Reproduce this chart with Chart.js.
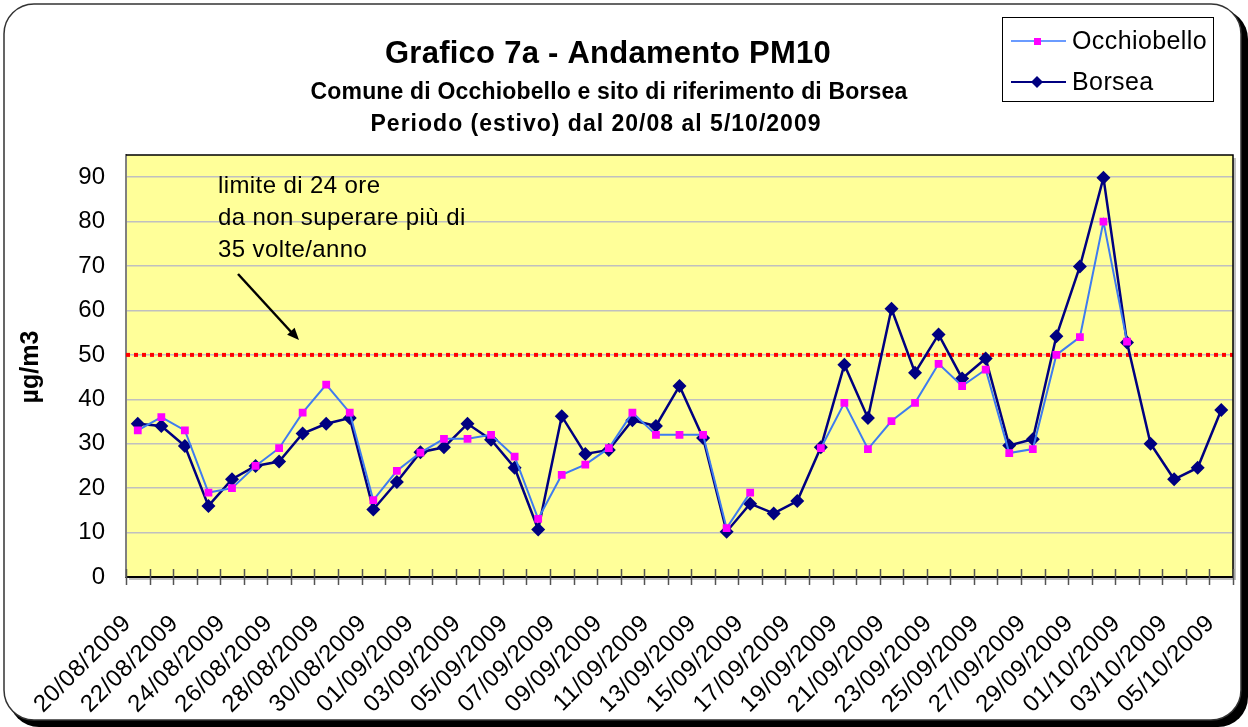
<!DOCTYPE html>
<html>
<head>
<meta charset="utf-8">
<script src="https://cdn.jsdelivr.net/npm/chart.js@4.4.0/dist/chart.umd.min.js"></script>
<style>
  html, body { margin: 0; padding: 0; background: #fff; }
  #wrap { width: 1248px; height: 727px; }
</style>
</head>
<body>
<div id="wrap"><canvas id="c" width="1248" height="727"></canvas></div>
<script>
// categories: one per day, 20/08/2009 -> 05/10/2009
const days = [
  '20/08/2009','21/08/2009','22/08/2009','23/08/2009','24/08/2009','25/08/2009','26/08/2009',
  '27/08/2009','28/08/2009','29/08/2009','30/08/2009','31/08/2009','01/09/2009','02/09/2009',
  '03/09/2009','04/09/2009','05/09/2009','06/09/2009','07/09/2009','08/09/2009','09/09/2009',
  '10/09/2009','11/09/2009','12/09/2009','13/09/2009','14/09/2009','15/09/2009','16/09/2009',
  '17/09/2009','18/09/2009','19/09/2009','20/09/2009','21/09/2009','22/09/2009','23/09/2009',
  '24/09/2009','25/09/2009','26/09/2009','27/09/2009','28/09/2009','29/09/2009','30/09/2009',
  '01/10/2009','02/10/2009','03/10/2009','04/10/2009','05/10/2009'
];

// PM10 values (µg/m3)
const occhiobello = [
  33, 36, 33, 19, 20, 25, 29, 37, 43.3, 37, 17.3, 23.9, 28, 31.1, 31.1, 32,
  27.1, 13.1, 23, 25.3, 29, 37, 32, 32, 32, 11, 19, null, null, 29, 39.2, 28.8,
  35.1, 39.2, 48, 43, 46.7, 27.9, 28.8, 50, 54, 80, 53, null, null, null, null
];
const borsea = [
  34.5, 34, 29.5, 16, 22, 25, 26, 32.3, 34.5, 35.8, 15.2, 21.4, 28.1, 29.2, 34.5, 30.9,
  24.6, 10.7, 36.2, 27.7, 28.6, 35.3, 34, 43, 31.3, 10.2, 16.5, 14.3, 17.1, 29.2, 47.8, 35.8,
  60.4, 46, 54.6, 44.7, 49.2, 29.6, 31, 54.2, 69.9, 89.9, 52.8, 30, 22, 24.6, 37.6
];

const yTicks = [0, 10, 20, 30, 40, 50, 60, 70, 80, 90];
const Y_MAX = 95;
const LIMIT = 50;       // limite di 24 ore

const titleLines = [
  'Grafico 7a - Andamento PM10',
  'Comune di Occhiobello e sito di riferimento di Borsea',
  'Periodo (estivo) dal 20/08 al 5/10/2009'
];
const noteLines = ['limite di 24 ore', 'da non superare più di', '35 volte/anno'];

const FONT = '"Liberation Sans", Arial, sans-serif';
const OCC_LINE = '#3f7cf0', OCC_MARK = '#ff00ff', BOR = '#000080';

function rrect(ctx, x, y, w, h, r) {
  ctx.beginPath();
  ctx.moveTo(x + r, y);
  ctx.lineTo(x + w - r, y);
  ctx.arcTo(x + w, y, x + w, y + r, r);
  ctx.lineTo(x + w, y + h - r);
  ctx.arcTo(x + w, y + h, x + w - r, y + h, r);
  ctx.lineTo(x + r, y + h);
  ctx.arcTo(x, y + h, x, y + h - r, r);
  ctx.lineTo(x, y + r);
  ctx.arcTo(x, y, x + r, y, r);
  ctx.closePath();
}

// centred text stretched with letter spacing to a given width
function spacedText(ctx, text, cx, y, width) {
  ctx.letterSpacing = '0px';
  const w = ctx.measureText(text).width;
  const sp = Math.max(0, (width - w) / text.length);
  ctx.letterSpacing = sp + 'px';
  ctx.textAlign = 'left';
  ctx.fillText(text, cx - width / 2, y);
  ctx.letterSpacing = '0px';
}

const decor = {
  id: 'decor',
  beforeDraw(chart) {
    const ctx = chart.ctx, a = chart.chartArea;
    ctx.save();
    ctx.fillStyle = '#fff';
    ctx.fillRect(0, 0, chart.width, chart.height);
    // frame + shadow
    ctx.fillStyle = '#000';
    rrect(ctx, 9, 9, 1239, 718, 30);
    ctx.fill();
    ctx.fillStyle = '#fff';
    rrect(ctx, 4, 4, 1237, 716, 30);
    ctx.fill();
    ctx.strokeStyle = '#333';
    ctx.lineWidth = 1.5;
    ctx.stroke();
    // plot background
    ctx.fillStyle = '#c0c0c0';
    ctx.fillRect(a.left + 3, a.top + 3, a.right - a.left, a.bottom - a.top);
    ctx.fillStyle = '#ffff99';
    ctx.fillRect(a.left, a.top, a.right - a.left, a.bottom - a.top);
    ctx.restore();
  },
  beforeDatasetsDraw(chart) {
    const ctx = chart.ctx, a = chart.chartArea;
    const y = chart.scales.y.getPixelForValue(LIMIT);
    ctx.save();
    ctx.strokeStyle = '#ff0000';
    ctx.lineWidth = 4;
    ctx.setLineDash([4, 4]);
    ctx.beginPath();
    ctx.moveTo(a.left, y);
    ctx.lineTo(a.right, y);
    ctx.stroke();
    ctx.restore();
  },
  afterDatasetsDraw(chart) {
    // x labels (drawn next, z = 1) use a slightly wider spacing, as in the original
    chart.ctx.letterSpacing = '0.6px';
  },
  afterDraw(chart) {
    const ctx = chart.ctx, a = chart.chartArea, xs = chart.scales.x;
    ctx.letterSpacing = '0px';
    ctx.save();
    // plot border top/right
    ctx.strokeStyle = '#000';
    ctx.lineWidth = 1.5;
    ctx.beginPath();
    ctx.moveTo(a.left, a.top);
    ctx.lineTo(a.right, a.top);
    ctx.lineTo(a.right, a.bottom);
    ctx.stroke();
    // x tick marks between categories, crossing the axis
    const half = (xs.getPixelForValue(1) - xs.getPixelForValue(0)) / 2;
    ctx.strokeStyle = '#555';
    ctx.lineWidth = 1.5;
    ctx.beginPath();
    for (let i = 0; i <= days.length; i++) {
      const x = Math.round(xs.getPixelForValue(i) - half) + 0.5;
      ctx.moveTo(x, a.bottom - 8);
      ctx.lineTo(x, a.bottom + 8);
    }
    ctx.stroke();

    // titles
    ctx.fillStyle = '#000';
    ctx.textBaseline = 'alphabetic';
    ctx.font = 'bold 31px ' + FONT;
    spacedText(ctx, titleLines[0], 608, 63, 446);
    ctx.font = 'bold 23px ' + FONT;
    spacedText(ctx, titleLines[1], 609, 99, 597);
    spacedText(ctx, titleLines[2], 596, 131, 451);

    // y axis title
    ctx.save();
    ctx.translate(38, 367);
    ctx.rotate(-Math.PI / 2);
    ctx.textAlign = 'center';
    ctx.font = 'bold 25px ' + FONT;
    ctx.fillText('µg/m3', 0, 0);
    ctx.restore();

    // note + arrow
    ctx.textAlign = 'left';
    ctx.font = '24px ' + FONT;
    ctx.letterSpacing = '0.4px';
    noteLines.forEach((t, i) => ctx.fillText(t, 218, 193 + i * 32));
    ctx.letterSpacing = '0px';
    ctx.strokeStyle = '#000';
    ctx.lineWidth = 2.5;
    ctx.beginPath();
    ctx.moveTo(238, 274);
    ctx.lineTo(293, 334);
    ctx.stroke();
    const ang = Math.atan2(340 - 274, 299 - 238);
    ctx.fillStyle = '#000';
    ctx.beginPath();
    ctx.moveTo(299, 340);
    ctx.lineTo(299 - 13 * Math.cos(ang - 0.4), 340 - 13 * Math.sin(ang - 0.4));
    ctx.lineTo(299 - 13 * Math.cos(ang + 0.4), 340 - 13 * Math.sin(ang + 0.4));
    ctx.closePath();
    ctx.fill();

    // legend
    ctx.fillStyle = '#fff';
    ctx.fillRect(1002, 17, 211, 84);
    ctx.strokeStyle = '#000';
    ctx.lineWidth = 1;
    ctx.strokeRect(1002.5, 17.5, 211, 84);
    ctx.lineWidth = 2;
    ctx.strokeStyle = '#6a9bff';
    ctx.beginPath(); ctx.moveTo(1011, 41); ctx.lineTo(1066, 41); ctx.stroke();
    ctx.fillStyle = OCC_MARK;
    ctx.fillRect(1034, 38, 7, 7);
    ctx.strokeStyle = BOR;
    ctx.beginPath(); ctx.moveTo(1011, 82); ctx.lineTo(1066, 82); ctx.stroke();
    ctx.fillStyle = BOR;
    ctx.beginPath();
    ctx.moveTo(1037, 76); ctx.lineTo(1043, 82); ctx.lineTo(1037, 88); ctx.lineTo(1031, 82);
    ctx.closePath(); ctx.fill();
    ctx.fillStyle = '#000';
    ctx.font = '25px ' + FONT;
    ctx.letterSpacing = '0.4px';
    ctx.fillText('Occhiobello', 1072, 49);
    ctx.fillText('Borsea', 1072, 90);
    ctx.letterSpacing = '0px';
    ctx.restore();
  }
};

new Chart(document.getElementById('c'), {
  type: 'line',
  data: {
    labels: days,
    datasets: [
      {
        label: 'Occhiobello',
        data: occhiobello,
        borderColor: OCC_LINE,
        borderWidth: 2,
        pointStyle: 'rect',
        pointRadius: 5.5,
        pointBackgroundColor: OCC_MARK,
        pointBorderColor: OCC_MARK,
        pointBorderWidth: 0,
        spanGaps: false,
        tension: 0
      },
      {
        label: 'Borsea',
        data: borsea,
        borderColor: BOR,
        borderWidth: 2.5,
        pointStyle: 'rectRot',
        pointRadius: 7,
        pointBackgroundColor: BOR,
        pointBorderColor: BOR,
        pointBorderWidth: 0,
        tension: 0
      }
    ]
  },
  options: {
    responsive: false,
    animation: false,
    devicePixelRatio: 1,
    layout: { padding: { top: 155, right: 15, left: 0, bottom: 0 } },
    plugins: { legend: { display: false }, title: { display: false }, tooltip: { enabled: false } },
    scales: {
      x: {
        offset: true,
        grid: { display: false },
        border: { display: true, color: '#000', width: 2 },
        ticks: {
          z: 1,
          autoSkip: false,
          maxRotation: 45,
          minRotation: 45,
          padding: 14,
          color: '#000',
          font: { family: FONT, size: 24 },
          // trailing spaces pull each rotated label a little left of its day, as in the original
          callback: (v, i) => (i % 2 === 0 ? days[i] + '  ' : '')
        },
        afterFit: s => { s.height = 150; s.paddingLeft = 0; s.paddingRight = 0; }
      },
      y: {
        min: 0,
        max: Y_MAX,
        afterBuildTicks: s => { s.ticks = yTicks.map(v => ({ value: v })); },
        grid: {
          drawTicks: false,
          color: c => (c.tick.value !== 0 ? '#c0c0c0' : 'rgba(0,0,0,0)'),
          lineWidth: 1.5
        },
        border: { display: true, color: '#808080', width: 2 },
        ticks: {
          padding: 21,
          color: '#000',
          font: { family: FONT, size: 24 }
        },
        afterFit: s => { s.width = 126; }
      }
    }
  },
  plugins: [decor]
});
</script>
</body>
</html>
